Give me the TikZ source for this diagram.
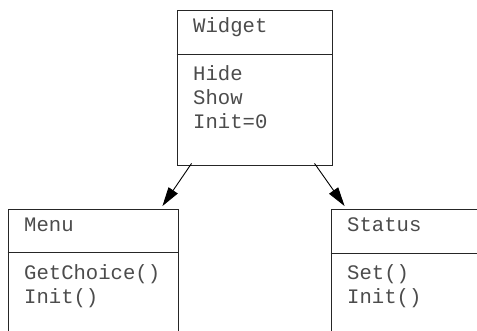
\documentclass[tikz,border=0pt]{standalone}
\usepackage{fontspec}
\setmonofont{Liberation Mono}
\usetikzlibrary{arrows.meta,calc}
\tikzset{
  classbox/.style={draw=black!85, line width=0.9pt, rectangle, inner sep=0pt},
  classtext/.style={font=\ttfamily\fontsize{20.6}{24}\selectfont, text=black!70, anchor=base west, inner sep=0pt},
  inherit/.style={draw=black, line width=0.9pt, -{Triangle[length=19pt,width=11pt]}}
}
\begin{document}
\begin{tikzpicture}[x=1pt,y=1pt]
  \useasboundingbox (0,0) rectangle (477,331);
  \clip (0,0) rectangle (477,331);
  \fill[white] (0,0) rectangle (477,331);

  % base class
  \node[classbox, minimum width=155pt, minimum height=155pt] (widget) at (254.5,243.5) {};
  \draw[black!85, line width=0.9pt] ($(widget.north west)+(0,-45)$) -- ($(widget.north east)+(0,-45)$);
  \node[classtext] (wname) at (193,298) {Widget};
  \node[classtext] (wop1) at (193,250) {Hide};
  \node[classtext] (wop2) at (193,226) {Show};
  \node[classtext] (wop3) at (193,202) {Init=0};

  % derived classes (boxes continue below the frame)
  \node[classbox, minimum width=170pt, minimum height=160pt] (menu) at (93,42) {};
  \draw[black!85, line width=0.9pt] ($(menu.north west)+(0,-44)$) -- ($(menu.north east)+(0,-44)$);
  \node[classtext] (mname) at (24,99) {Menu};
  \node[classtext] (mop1) at (24,51) {GetChoice()};
  \node[classtext] (mop2) at (24,27) {Init()};

  \node[classbox, minimum width=170pt, minimum height=160pt] (status) at (416,42) {};
  \draw[black!85, line width=0.9pt] ($(status.north west)+(0,-45)$) -- ($(status.north east)+(0,-45)$);
  \node[classtext] (sname) at (347,99) {Status};
  \node[classtext] (sop1) at (347,51) {Set()};
  \node[classtext] (sop2) at (347,27) {Init()};

  % inheritance arrows
  \coordinate (wl) at ($(widget.south west)+(15,2)$);
  \coordinate (wr) at ($(widget.south west)+(138,2)$);
  \coordinate (mt) at ($(menu.north east)+(-16,2.5)$);
  \coordinate (st) at ($(status.north west)+(14,2.5)$);
  \draw[inherit] (wl) -- (mt);
  \draw[inherit] (wr) -- (st);
\end{tikzpicture}
\end{document}
